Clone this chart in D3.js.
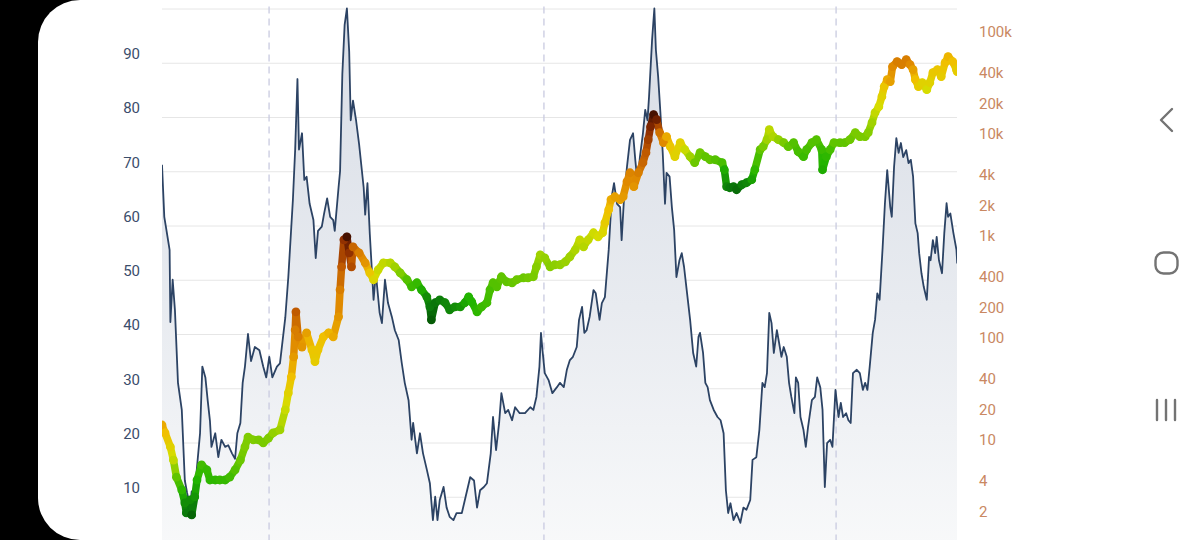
<!DOCTYPE html>
<html>
<head>
<meta charset="utf-8">
<script src="https://cdn.jsdelivr.net/npm/d3@7"></script>
<style>
  html, body { margin: 0; padding: 0; background: #000; }
  svg { display: block; font-family: Roboto, "Open Sans", sans-serif; }
</style>
</head>
<body>
<svg id="chart" width="1200" height="540"></svg>
<script>
'use strict';

// indicator (0-100), decimal years
const indexYears = [
  2011.50, 2011.53, 2011.56, 2011.60, 2011.61, 2011.64, 2011.67, 2011.71, 2011.76, 2011.80,
  2011.83, 2011.87, 2011.89, 2011.91, 2011.96, 2012.00, 2012.03, 2012.07, 2012.10, 2012.13,
  2012.15, 2012.20, 2012.24, 2012.28, 2012.33, 2012.37, 2012.42, 2012.46, 2012.49, 2012.53,
  2012.56, 2012.59, 2012.63, 2012.67, 2012.72, 2012.78, 2012.83, 2012.87, 2012.91, 2012.95,
  2013.01, 2013.05, 2013.12, 2013.16, 2013.22, 2013.25, 2013.28, 2013.30, 2013.34, 2013.37,
  2013.40, 2013.44, 2013.49, 2013.52, 2013.55, 2013.60, 2013.63, 2013.67, 2013.71, 2013.75,
  2013.77, 2013.82, 2013.84, 2013.87, 2013.90, 2013.93, 2013.96, 2013.98, 2014.01, 2014.05,
  2014.09, 2014.15, 2014.17, 2014.20, 2014.23, 2014.28, 2014.31, 2014.36, 2014.39, 2014.43,
  2014.47, 2014.52, 2014.56, 2014.61, 2014.65, 2014.69, 2014.74, 2014.78, 2014.80, 2014.85,
  2014.89, 2014.93, 2014.98, 2015.02, 2015.06, 2015.09, 2015.12, 2015.15, 2015.20, 2015.24,
  2015.28, 2015.33, 2015.37, 2015.44, 2015.49, 2015.55, 2015.60, 2015.64, 2015.68, 2015.73,
  2015.77, 2015.82, 2015.85, 2015.89, 2015.93, 2015.96, 2016.01, 2016.05, 2016.10, 2016.14,
  2016.20, 2016.27, 2016.34, 2016.38, 2016.42, 2016.46, 2016.48, 2016.50, 2016.53, 2016.58,
  2016.63, 2016.69, 2016.73, 2016.78, 2016.82, 2016.86, 2016.90, 2016.95, 2016.98, 2017.02,
  2017.05, 2017.08, 2017.12, 2017.17, 2017.20, 2017.25, 2017.28, 2017.32, 2017.37, 2017.41,
  2017.44, 2017.48, 2017.52, 2017.54, 2017.57, 2017.61, 2017.65, 2017.69, 2017.72, 2017.75,
  2017.78, 2017.82, 2017.85, 2017.88, 2017.90, 2017.94, 2017.97, 2017.99, 2018.02, 2018.05,
  2018.08, 2018.11, 2018.13, 2018.17, 2018.20, 2018.23, 2018.26, 2018.30, 2018.33, 2018.36,
  2018.40, 2018.44, 2018.48, 2018.52, 2018.55, 2018.57, 2018.61, 2018.64, 2018.67, 2018.70,
  2018.75, 2018.80, 2018.84, 2018.88, 2018.91, 2018.94, 2018.97, 2019.01, 2019.05, 2019.10,
  2019.14, 2019.18, 2019.23, 2019.26, 2019.31, 2019.35, 2019.39, 2019.42, 2019.45, 2019.48,
  2019.51, 2019.54, 2019.58, 2019.61, 2019.64, 2019.67, 2019.71, 2019.74, 2019.77, 2019.81,
  2019.83, 2019.86, 2019.89, 2019.93, 2019.96, 2019.99, 2020.04, 2020.08, 2020.11, 2020.15,
  2020.18, 2020.21, 2020.24, 2020.28, 2020.31, 2020.35, 2020.39, 2020.42, 2020.45, 2020.49,
  2020.52, 2020.55, 2020.58, 2020.63, 2020.67, 2020.71, 2020.74, 2020.77, 2020.80, 2020.84,
  2020.87, 2020.90, 2020.93, 2020.97, 2021.00, 2021.03, 2021.07, 2021.09, 2021.12, 2021.15,
  2021.18, 2021.21, 2021.24, 2021.28, 2021.31, 2021.34, 2021.37, 2021.40, 2021.43, 2021.45,
  2021.48, 2021.51, 2021.55, 2021.58, 2021.60, 2021.63, 2021.66, 2021.68, 2021.71, 2021.75,
  2021.78, 2021.81, 2021.83, 2021.86, 2021.90, 2021.94, 2021.95
];
const indexValues = [
  71.2, 61.6, 59.0, 55.5, 42.2, 50.0, 44.4, 31.0, 26.0, 13.0,
  10.7, 8.0, 11.0, 7.0, 15.5, 21.7, 34.0, 32.0, 27.8, 24.0,
  19.2, 21.7, 17.3, 20.5, 19.2, 19.5, 18.0, 17.0, 21.7, 23.6,
  31.0, 34.0, 40.0, 35.0, 37.6, 37.0, 34.0, 32.0, 35.8, 32.0,
  34.0, 34.6, 43.0, 50.5, 64.7, 74.0, 87.0, 74.0, 77.0, 68.4,
  69.0, 64.0, 61.0, 54.0, 59.0, 59.8, 62.2, 65.0, 61.6, 61.0,
  59.0, 67.0, 70.0, 88.0, 97.0, 100.0, 92.0, 79.4, 83.0, 79.4,
  75.0, 67.0, 62.0, 67.8, 58.6, 46.3, 51.2, 43.9, 42.0, 50.0,
  45.7, 43.2, 40.7, 38.9, 34.7, 31.0, 27.8, 20.5, 23.6, 18.0,
  21.7, 18.0, 15.0, 12.5, 5.7, 10.0, 5.7, 9.4, 11.8, 8.0,
  6.3, 5.7, 7.0, 7.0, 10.0, 13.6, 13.0, 8.0, 11.2, 11.8,
  12.5, 18.0, 24.7, 18.6, 23.6, 29.1, 25.4, 26.0, 24.1, 26.5,
  25.4, 25.4, 26.5, 26.0, 28.4, 34.0, 40.2, 37.0, 32.8, 31.5,
  29.1, 30.2, 31.0, 30.2, 33.4, 35.2, 35.8, 37.6, 42.6, 45.0,
  40.2, 40.7, 43.2, 48.1, 47.5, 42.6, 45.7, 46.8, 55.5, 65.3,
  67.8, 64.0, 63.4, 57.3, 64.7, 70.8, 75.8, 77.0, 72.0, 67.8,
  72.6, 77.0, 81.3, 79.4, 83.7, 94.2, 100.0, 92.4, 87.4, 80.7,
  73.4, 64.0, 69.7, 69.0, 63.4, 59.2, 50.5, 53.6, 54.9, 52.4,
  47.5, 42.6, 36.5, 34.0, 39.5, 40.2, 36.5, 31.0, 30.2, 27.8,
  26.0, 24.7, 24.1, 21.7, 11.2, 7.0, 8.8, 5.7, 7.0, 5.2,
  8.0, 7.6, 9.4, 16.8, 17.3, 22.3, 31.0, 30.2, 32.8, 43.9,
  42.0, 36.5, 40.7, 38.3, 35.8, 37.6, 35.8, 31.0, 28.4, 25.4,
  32.0, 31.0, 24.7, 22.3, 19.2, 22.9, 27.8, 28.4, 32.0, 30.2,
  26.0, 11.8, 19.9, 20.5, 19.2, 29.7, 24.7, 27.3, 24.7, 25.4,
  24.1, 23.6, 32.8, 33.4, 32.8, 29.7, 31.0, 29.7, 34.0, 40.2,
  42.6, 47.5, 46.3, 56.0, 64.1, 70.2, 63.4, 61.6, 70.8, 76.1,
  73.4, 75.2, 72.6, 73.9, 71.5, 72.1, 69.0, 60.4, 58.6, 54.9,
  51.2, 48.7, 46.3, 54.2, 53.6, 57.3, 54.9, 57.9, 53.6, 51.2,
  58.6, 64.1, 61.6, 62.2, 58.6, 55.5, 53.0
];

// price in USD (log axis) with a 0-100 heat value that drives the dot colour
const priceYears = [
  2011.50, 2011.54, 2011.61, 2011.65, 2011.69, 2011.76, 2011.80, 2011.82, 2011.87, 2011.89,
  2011.93, 2011.96, 2012.02, 2012.09, 2012.13, 2012.20, 2012.26, 2012.33, 2012.39, 2012.46,
  2012.53, 2012.59, 2012.63, 2012.70, 2012.77, 2012.83, 2012.90, 2012.96, 2013.05, 2013.12,
  2013.16, 2013.20, 2013.23, 2013.25, 2013.26, 2013.29, 2013.34, 2013.40, 2013.47, 2013.51,
  2013.55, 2013.62, 2013.69, 2013.75, 2013.82, 2013.84, 2013.86, 2013.89, 2013.93, 2013.96,
  2013.99, 2014.01, 2014.09, 2014.17, 2014.23, 2014.28, 2014.34, 2014.41, 2014.50, 2014.56,
  2014.63, 2014.72, 2014.78, 2014.85, 2014.91, 2014.98, 2015.02, 2015.04, 2015.09, 2015.15,
  2015.22, 2015.28, 2015.35, 2015.42, 2015.48, 2015.53, 2015.57, 2015.64, 2015.70, 2015.77,
  2015.81, 2015.85, 2015.90, 2015.96, 2016.03, 2016.10, 2016.16, 2016.25, 2016.31, 2016.38,
  2016.42, 2016.47, 2016.53, 2016.60, 2016.66, 2016.73, 2016.80, 2016.86, 2016.93, 2016.99,
  2017.04, 2017.10, 2017.17, 2017.23, 2017.29, 2017.32, 2017.37, 2017.40, 2017.45, 2017.52,
  2017.56, 2017.61, 2017.65, 2017.70, 2017.76, 2017.82, 2017.86, 2017.89, 2017.92, 2017.96,
  2018.00, 2018.04, 2018.09, 2018.13, 2018.18, 2018.24, 2018.31, 2018.37, 2018.44, 2018.50,
  2018.57, 2018.64, 2018.70, 2018.77, 2018.86, 2018.89, 2018.92, 2018.96, 2019.01, 2019.05,
  2019.12, 2019.18, 2019.25, 2019.29, 2019.36, 2019.40, 2019.45, 2019.48, 2019.53, 2019.60,
  2019.67, 2019.73, 2019.80, 2019.86, 2019.93, 2019.97, 2020.04, 2020.10, 2020.17, 2020.18,
  2020.23, 2020.28, 2020.33, 2020.41, 2020.47, 2020.54, 2020.61, 2020.67, 2020.74, 2020.78,
  2020.83, 2020.87, 2020.92, 2020.96, 2020.99, 2021.03, 2021.07, 2021.10, 2021.16, 2021.22,
  2021.28, 2021.33, 2021.37, 2021.40, 2021.44, 2021.49, 2021.55, 2021.59, 2021.63, 2021.69,
  2021.74, 2021.79, 2021.83, 2021.89, 2021.94, 2021.95
];
const priceValues = [
  17.2, 14.4, 10.5, 7.8, 5.3, 3.97, 2.96, 2.36, 3.17, 2.26,
  3.39, 4.97, 6.98, 6.24, 4.97, 4.97, 4.97, 4.97, 5.3, 6.24,
  7.8, 10.5, 13.1, 12.3, 12.3, 11.5, 12.8, 14.4, 15.4, 24.2,
  35.5, 51, 80, 147, 221, 126, 100, 138, 94, 72,
  94, 126, 138, 126, 198, 364, 612, 1127, 1206, 840,
  612, 962, 840, 670, 535, 457, 572, 670, 670, 612,
  535, 457, 390, 427, 364, 311, 248, 185, 272, 290,
  272, 232, 248, 248, 272, 311, 278, 221, 248, 272,
  364, 427, 390, 489, 436, 427, 457, 478, 478, 489,
  612, 803, 750, 612, 641, 641, 686, 768, 899, 1127,
  962, 1127, 1321, 1206, 1321, 1656, 2220, 2785, 2978, 2785,
  2978, 4180, 5120, 3735, 5120, 6425, 8050, 10800, 14490, 19000,
  16980, 12650, 10090, 11560, 9220, 7360, 10090, 8610, 7360, 6425,
  8050, 7360, 6870, 6870, 6425, 5480, 3735, 3650, 3735, 3490,
  3910, 4085, 4375, 5480, 8610, 9220, 10800, 13530, 11560, 10800,
  10090, 9220, 10090, 8240, 7360, 8610, 10090, 10800, 8610, 5480,
  7360, 8610, 10090, 10090, 10090, 10800, 12650, 11560, 11560, 12650,
  15850, 19870, 22760, 28530, 35800, 41900, 40080, 56230, 62930, 58780,
  65800, 58780, 52480, 41900, 35800, 39170, 33420, 39170, 49090, 52480,
  44870, 61500, 70470, 62930, 52480, 50230
];
const priceHeat = [
  72, 68, 62, 55, 40, 32, 20, 15, 20, 10,
  22, 30, 35, 33, 32, 32, 33, 33, 35, 38,
  42, 45, 45, 45, 44, 44, 45, 48, 50, 56,
  62, 68, 75, 80, 86, 80, 76, 74, 66, 64,
  66, 68, 70, 72, 76, 80, 86, 92, 98, 92,
  88, 84, 80, 76, 66, 60, 56, 55, 53, 50,
  45, 38, 34, 33, 28, 20, 15, 8, 14, 16,
  18, 18, 20, 22, 26, 30, 30, 32, 34, 35,
  36, 38, 38, 40, 40, 41, 42, 42, 43, 44,
  46, 50, 48, 46, 47, 48, 49, 50, 52, 55,
  53, 55, 57, 58, 60, 64, 68, 72, 74, 74,
  75, 78, 79, 76, 80, 84, 86, 90, 94, 98,
  95, 82, 78, 72, 66, 62, 62, 56, 50, 42,
  42, 40, 40, 38, 36, 28, 18, 15, 14, 12,
  16, 18, 25, 32, 40, 44, 50, 54, 52, 48,
  44, 40, 38, 36, 34, 36, 38, 38, 34, 28,
  32, 36, 40, 40, 40, 42, 44, 44, 44, 46,
  50, 55, 58, 62, 66, 72, 74, 78, 80, 80,
  80, 78, 74, 68, 64, 62, 58, 62, 65, 66,
  64, 68, 70, 68, 64, 64
];

const halvingYears = [2012.907, 2016.519, 2020.358];
const gridTicks = [10, 20, 30, 40, 50, 60, 70, 80, 90, 100];
const leftTicks = [10, 20, 30, 40, 50, 60, 70, 80, 90];
const rightTicks = [2, 4, 10, 20, 40, 100, 200, 400, 1000, 2000, 4000, 10000, 20000, 40000, 100000];

const heatStops = [0, 15, 30, 45, 58, 68, 78, 86, 93, 100];
const heatColors = ['#003a00', '#0b7a0b', '#22b400', '#7fcc00', '#d6dc00', '#f0c000', '#e08a00',
  '#c05a00', '#8a2a00', '#2c0800'];

const svg = d3.select('#chart');
const plotLeft = 162, plotRight = 957, plotTop = 8.5, plotBottom = 551;

const x = d3.scaleLinear().domain([2011.5, 2021.947]).range([plotLeft, plotRight]);
const yL = d3.scaleLinear().domain([0, 100]).range([plotBottom, plotTop]);
const yR = d3.scaleLog().domain([1, Math.pow(10, 5.32)]).range([plotBottom, plotTop]);
const heatColor = d3.scaleLinear().domain(heatStops).range(heatColors).clamp(true);

// phone frame
svg.append('rect').attr('width', 1200).attr('height', 540).attr('fill', '#000');
svg.append('rect')
  .attr('x', 38).attr('y', 0).attr('width', 1220).attr('height', 540)
  .attr('rx', 42).attr('ry', 42)
  .attr('fill', '#fff');

const defs = svg.append('defs');
defs.append('clipPath').attr('id', 'plot')
  .append('rect').attr('x', plotLeft).attr('y', 0).attr('width', plotRight - plotLeft).attr('height', 540);

const grad = defs.append('linearGradient').attr('id', 'fill')
  .attr('gradientUnits', 'userSpaceOnUse')
  .attr('x1', 0).attr('x2', 0).attr('y1', plotTop).attr('y2', plotBottom);
grad.append('stop').attr('offset', 0).attr('stop-color', '#d8dde6');
grad.append('stop').attr('offset', 0.55).attr('stop-color', '#e8ebf0');
grad.append('stop').attr('offset', 1).attr('stop-color', '#f8f9fa');

// grid lines
svg.append('g')
  .attr('transform', 'translate(' + plotLeft + ',0)')
  .call(d3.axisLeft(yL).tickValues(gridTicks).tickSize(-(plotRight - plotLeft)).tickFormat(''))
  .call(g => g.select('.domain').remove())
  .call(g => g.selectAll('line').attr('stroke', '#e6e6e6').attr('stroke-width', 1));

const plot = svg.append('g').attr('clip-path', 'url(#plot)');

const indexData = indexYears.map((t, i) => ({ t: t, v: indexValues[i] }));
const priceData = priceYears.map((t, i) => ({ t: t, p: priceValues[i], h: priceHeat[i] }));

plot.append('path')
  .datum(indexData)
  .attr('fill', 'url(#fill)')
  .attr('d', d3.area().x(d => x(d.t)).y0(plotBottom).y1(d => yL(d.v)));

// halving lines
plot.selectAll('.halving')
  .data(halvingYears)
  .enter().append('line')
  .attr('class', 'halving')
  .attr('x1', d => x(d)).attr('x2', d => x(d))
  .attr('y1', plotTop - 2).attr('y2', 540)
  .attr('stroke', '#c9cbe0')
  .attr('stroke-width', 1.3)
  .attr('stroke-dasharray', '7,5');

plot.append('path')
  .datum(indexData)
  .attr('fill', 'none')
  .attr('stroke', '#2c4364')
  .attr('stroke-width', 1.8)
  .attr('stroke-linejoin', 'round')
  .attr('d', d3.line().x(d => x(d.t)).y(d => yL(d.v)));

// price band: coloured segments plus dots
const pairs = d3.pairs(priceData);
plot.selectAll('.seg')
  .data(pairs)
  .enter().append('line')
  .attr('class', 'seg')
  .attr('x1', d => x(d[0].t)).attr('y1', d => yR(d[0].p))
  .attr('x2', d => x(d[1].t)).attr('y2', d => yR(d[1].p))
  .attr('stroke', d => heatColor((d[0].h + d[1].h) / 2))
  .attr('stroke-width', 7.5)
  .attr('stroke-linecap', 'round');

plot.selectAll('.dot')
  .data(priceData)
  .enter().append('circle')
  .attr('class', 'dot')
  .attr('cx', d => x(d.t))
  .attr('cy', d => yR(d.p))
  .attr('r', 4.4)
  .attr('fill', d => heatColor(d.h));

// axes
svg.append('g')
  .attr('transform', 'translate(' + plotLeft + ',0)')
  .call(d3.axisLeft(yL).tickValues(leftTicks).tickSize(0).tickPadding(22))
  .call(g => g.select('.domain').remove())
  .call(g => g.selectAll('text')
    .attr('y', -9)
    .attr('fill', '#3b4d6b')
    .style('font-size', '15px')
    .style('font-family', 'Roboto, sans-serif'));

const fmtPrice = v => v >= 1000 ? (v / 1000) + 'k' : String(v);
svg.append('g')
  .attr('transform', 'translate(' + plotRight + ',0)')
  .call(d3.axisRight(yR).tickValues(rightTicks).tickFormat(fmtPrice).tickSize(0).tickPadding(22))
  .call(g => g.select('.domain').remove())
  .call(g => g.selectAll('text')
    .attr('y', -9)
    .attr('fill', '#c98862')
    .style('font-size', '15px')
    .style('font-family', 'Roboto, sans-serif'));

// navigation bar icons
const nav = svg.append('g')
  .attr('fill', 'none')
  .attr('stroke', '#737373')
  .attr('stroke-width', 2.4)
  .attr('stroke-linecap', 'round')
  .attr('stroke-linejoin', 'round');
nav.append('polyline').attr('points', '1172,109 1161,120 1172,131');
nav.append('rect').attr('x', 1155.5).attr('y', 252.5).attr('width', 22).attr('height', 21).attr('rx', 8);
[1157, 1166, 1175].forEach(px => {
  nav.append('line').attr('x1', px).attr('x2', px).attr('y1', 400).attr('y2', 420);
});
</script>
</body>
</html>
